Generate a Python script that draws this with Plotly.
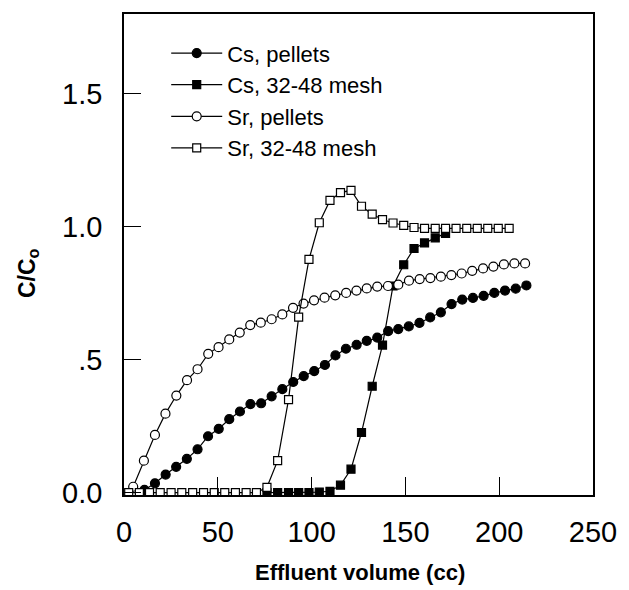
import plotly.graph_objects as go

# Data
cs_pel_x = [10.9, 16.5, 22.2, 27.8, 33.5, 39.2, 44.8, 50.5, 56.1, 61.8, 67.4, 73.1, 78.7, 84.4, 90.2, 95.8,
            101.4, 107.1, 112.7, 118.3, 124.0, 129.4, 135.0, 140.8, 146.2, 151.8, 157.5, 163.2, 168.9, 174.6,
            180.3, 186.0, 191.7, 197.4, 203.1, 208.8, 214.5]
cs_pel_y = [0.01, 0.035, 0.068, 0.097, 0.127, 0.163, 0.212, 0.24, 0.276, 0.305, 0.333, 0.336, 0.362, 0.389,
            0.416, 0.438, 0.457, 0.48, 0.516, 0.541, 0.556, 0.571, 0.583, 0.607, 0.615, 0.625, 0.638, 0.659,
            0.678, 0.709, 0.726, 0.732, 0.74, 0.751, 0.76, 0.767, 0.779]

cs_mesh_x = [76.2, 81.9, 87.7, 93.1, 98.6, 104.1, 109.8, 115.4, 121.0, 126.6, 132.3, 137.8, 143.4, 149.1,
             154.6, 160.2, 165.9, 171.4]
cs_mesh_y = [0.0, 0.0, 0.0, 0.0, 0.0, 0.002, 0.005, 0.028, 0.088, 0.226, 0.40, 0.555, 0.777, 0.857, 0.918,
             0.939, 0.958, 0.975]

sr_pel_x = [4.9, 10.6, 16.5, 22.1, 27.9, 33.6, 39.2, 44.9, 50.4, 56.1, 61.7, 67.3, 72.9, 78.7, 84.4, 90.1,
            95.7, 101.3, 106.9, 112.6, 118.4, 123.9, 129.4, 135.0, 140.7, 146.2, 151.9, 157.6, 163.3, 168.9,
            174.5, 180.0, 185.6, 191.4, 196.9, 202.5, 208.1, 213.8]
sr_pel_y = [0.022, 0.12, 0.217, 0.297, 0.365, 0.423, 0.464, 0.522, 0.547, 0.576, 0.602, 0.63, 0.639, 0.652,
            0.67, 0.695, 0.711, 0.723, 0.733, 0.742, 0.751, 0.76, 0.768, 0.775, 0.777, 0.782, 0.797, 0.803,
            0.807, 0.812, 0.818, 0.824, 0.834, 0.843, 0.85, 0.858, 0.862, 0.862]

sr_mesh_x = [2.5, 8.2, 13.6, 19.3, 25.1, 30.8, 36.6, 42.4, 48.1, 53.7, 59.4, 65.1, 70.6, 76.2, 81.9, 87.7,
             93.1, 98.6, 104.1, 109.8, 115.4, 121.0, 126.6, 132.3, 137.8, 143.4, 149.1, 154.6, 160.2, 165.9,
             171.4, 177.0, 182.7, 188.3, 193.9, 199.5, 205.3]
sr_mesh_y = [0, 0, 0, 0, 0, 0, 0, 0, 0, 0, 0, 0, 0, 0.02, 0.12, 0.35, 0.66, 0.877, 1.015, 1.099, 1.128,
             1.137, 1.077, 1.047, 1.027, 1.014, 1.005, 0.997, 0.994, 0.994, 0.994, 0.994, 0.994, 0.994,
             0.994, 0.994, 0.994]

names = ["Cs, pellets", "Cs, 32-48 mesh", "Sr, pellets", "Sr, 32-48 mesh"]
x_tickvals = [0, 50, 100, 150, 200, 250]
y_tickvals = [0.0, 0.5, 1.0, 1.5]
y_ticktext = ["0.0", ".5", "1.0", "1.5"]

FONT = "Liberation Sans, Arial, sans-serif"

fig = go.Figure()

series = [
    (cs_pel_x, cs_pel_y, names[0], "circle", "black", 9),
    (cs_mesh_x, cs_mesh_y, names[1], "square", "black", 8),
    (sr_pel_x, sr_pel_y, names[2], "circle", "white", 9),
    (sr_mesh_x, sr_mesh_y, names[3], "square", "white", 8),
]
for i, (xs, ys, nm, sym, fill, sz) in enumerate(series):
    fig.add_trace(go.Scatter(
        x=xs, y=ys, name=nm, mode="lines+markers", legendgroup=f"g{i}",
        line=dict(color="black", width=1.2),
        marker=dict(symbol=sym, size=sz, color=fill, line=dict(color="black", width=1.2)),
    ))

fig.update_layout(
    width=629, height=590,
    margin=dict(l=124, r=30, t=12, b=95),
    paper_bgcolor="white", plot_bgcolor="white",
    font=dict(family=FONT, color="black"),
    showlegend=True,
    legend=dict(
        x=0.09, y=0.962, xanchor="left", yanchor="top",
        font=dict(size=22, family=FONT, color="black"),
        bgcolor="rgba(0,0,0,0)", borderwidth=0,
        tracegroupgap=0, traceorder="grouped", itemwidth=51,
    ),
    xaxis=dict(
        range=[0, 250], tickvals=x_tickvals, ticks="inside", ticklen=18, tickwidth=1.3,
        tickcolor="black", showline=True, linecolor="black", linewidth=1.5, mirror=True,
        showgrid=False, zeroline=False, tickfont=dict(size=29, family=FONT),
        ticklabelstandoff=10,
    ),
    yaxis=dict(
        range=[-0.009, 1.8], tickvals=y_tickvals, ticktext=y_ticktext, ticks="inside", ticklen=17,
        tickwidth=1.3, tickcolor="black", showline=True, linecolor="black", linewidth=1.5, mirror=True,
        showgrid=False, zeroline=False, tickfont=dict(size=29, family=FONT),
        ticklabelstandoff=14,
    ),
    annotations=[
        dict(text="<b>Effluent volume (cc)</b>", xref="paper", yref="paper", x=0.503, y=-0.161,
             xanchor="center", yanchor="middle", showarrow=False, font=dict(size=22, family=FONT)),
        dict(text="<b>C/C<sub>o</sub></b>", xref="paper", yref="paper", x=-0.204, y=0.462,
             xanchor="center", yanchor="middle", textangle=-90, showarrow=False,
             font=dict(size=23, family=FONT)),
    ],
)

fig.write_html("out.html")
